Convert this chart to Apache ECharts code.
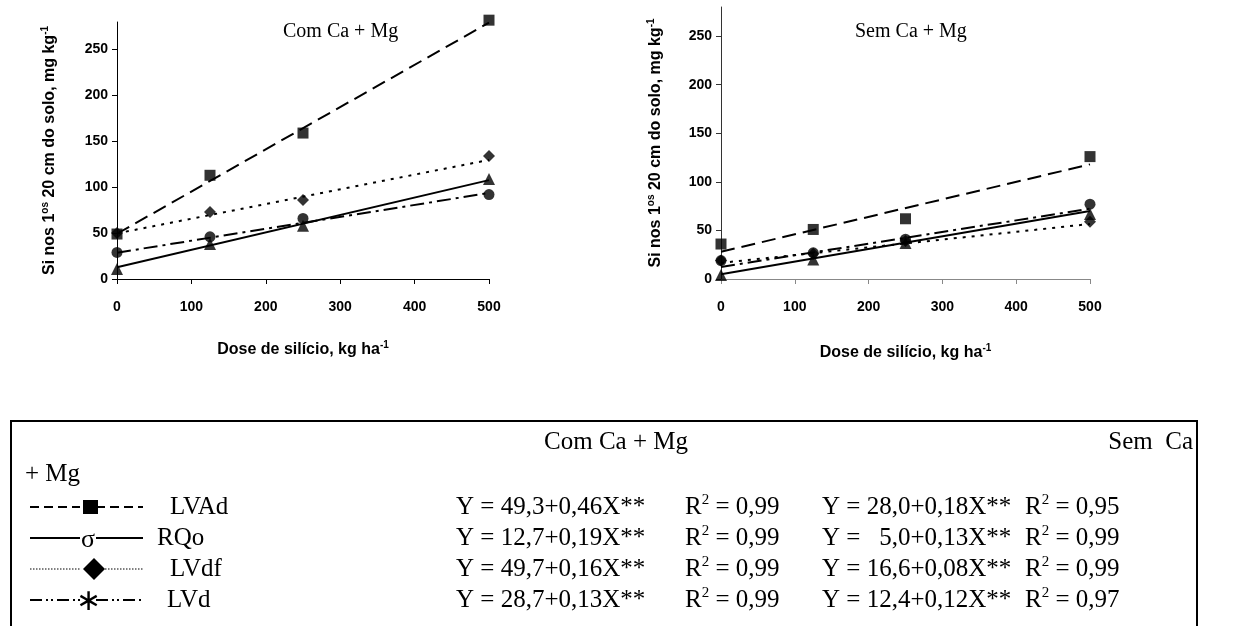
<!DOCTYPE html>
<html><head><meta charset="utf-8">
<script src="https://cdn.jsdelivr.net/npm/echarts@6/dist/echarts.min.js"></script>
<style>html,body{margin:0;padding:0;background:#fff}#c{width:1243px;height:626px}</style>
</head><body><div id="c"></div>
<script>
// ---------- data ----------
const doses = [0, 125, 250, 500];
const xTicks = [0, 100, 200, 300, 400, 500];
const yTicks = [0, 50, 100, 150, 200, 250];
const soils = ['LVAd', 'RQo', 'LVdf', 'LVd'];
const panelTitles = ['Com Ca + Mg', 'Sem Ca + Mg'];

// Com Ca + Mg: observed values
const comLVAd = [49, 113, 159, 282];
const comRQo  = [11, 38, 58, 109];
const comLVdf = [50, 73, 86, 134];
const comLVd  = [29, 46, 66, 92];
// Sem Ca + Mg: observed values
const semLVAd = [36, 51, 62, 126];
const semRQo  = [4, 20, 37, 67];
const semLVdf = [19, 26, 39, 59];
const semLVd  = [19, 27, 41, 77];

// fitted lines, values read at dose 0 and dose 500
const fitDoses = [0, 500];
const comFitLVAd = [49.3, 279.3];
const comFitRQo  = [12.7, 107.7];
const comFitLVdf = [49.7, 129.7];
const comFitLVd  = [28.7, 93.7];
const semFitLVAd = [28.0, 118.0];
const semFitRQo  = [5.0, 70.0];
const semFitLVdf = [16.6, 56.6];
const semFitLVd  = [12.4, 72.4];

// legend table texts
const headerCom = 'Com Ca + Mg';
const headerSem1 = 'Sem  Ca';
const headerSem2 = '+ Mg';
const legendMarks = ['\u25A0', '\u03C3', '\u25C6', '\u2217'];
const eqCom = ['Y = 49,3+0,46X**', 'Y = 12,7+0,19X**', 'Y = 49,7+0,16X**', 'Y = 28,7+0,13X**'];
const r2Com = ['0,99', '0,99', '0,99', '0,99'];
const eqSem = ['Y = 28,0+0,18X**', 'Y =   5,0+0,13X**', 'Y = 16,6+0,08X**', 'Y = 12,4+0,12X**'];
const r2Sem = ['0,95', '0,99', '0,99', '0,97'];

// ---------- styling ----------
const sans = 'Liberation Sans, Arial, sans-serif';
const serif = 'Liberation Serif, Times New Roman, serif';
const lineTypes = {
  LVAd: [14, 7],
  RQo: 'solid',
  LVdf: [3, 6],
  LVd: [14, 5, 3, 5]
};
const symbols = {
  LVAd: ['rect', 11],
  RQo: ['triangle', 12],
  LVdf: ['diamond', 12],
  LVd: ['circle', 11]
};

const obs = [
  {LVAd: comLVAd, RQo: comRQo, LVdf: comLVdf, LVd: comLVd},
  {LVAd: semLVAd, RQo: semRQo, LVdf: semLVdf, LVd: semLVd}
];
const fits = [
  {LVAd: comFitLVAd, RQo: comFitRQo, LVdf: comFitLVdf, LVd: comFitLVd},
  {LVAd: semFitLVAd, RQo: semFitRQo, LVdf: semFitLVdf, LVd: semFitLVd}
];

const grids = [
  {left: 117, top: 22, width: 372, height: 257},
  {left: 721, top: 7, width: 369, height: 272}
];
const axisColors = [{x: '#000', y: '#000'}, {x: '#888', y: '#333'}];

const richAxis = {
  a: {fontFamily: sans, fontWeight: 'bold', fontSize: 16, lineHeight: 19, color: '#000'},
  s: {fontFamily: sans, fontWeight: 'bold', fontSize: 10, lineHeight: 11, verticalAlign: 'top', color: '#000'}
};

const xAxes = grids.map((g, i) => ({
  type: 'value', gridIndex: i, min: 0, max: 500, interval: 100,
  name: '{a|Dose de silício, kg ha}{s|-1}',
  nameLocation: 'middle', nameGap: i === 0 ? 61 : 64,
  nameTextStyle: {rich: richAxis},
  axisLine: {show: true, lineStyle: {color: axisColors[i].x, width: 1}},
  axisTick: {show: true, inside: false, length: 5, lineStyle: {color: axisColors[i].x}, customValues: xTicks},
  axisLabel: {customValues: xTicks, fontFamily: sans, fontWeight: 'bold', fontSize: 14, color: '#000', margin: 21},
  splitLine: {show: false}
}));
const yAxes = grids.map((g, i) => ({
  type: 'value', gridIndex: i, min: 0, max: 280, interval: 50,
  name: '{a|Si nos 1}{s|os}{a| 20 cm do solo, mg kg}{s|-1}',
  nameLocation: 'middle', nameRotate: 90, nameGap: i === 0 ? 58 : 56,
  nameTextStyle: {rich: richAxis},
  axisLine: {show: true, lineStyle: {color: axisColors[i].y, width: 1}},
  axisTick: {show: true, inside: false, length: 5, lineStyle: {color: axisColors[i].y}, customValues: yTicks},
  axisLabel: {customValues: yTicks, fontFamily: sans, fontWeight: 'bold', fontSize: 14, color: '#000', margin: 9},
  splitLine: {show: false}
}));

const series = [];
[0, 1].forEach(p => {
  soils.forEach(s => {
    series.push({
      type: 'line', xAxisIndex: p, yAxisIndex: p, name: s + ' fit',
      data: fitDoses.map((d, k) => [d, fits[p][s][k]]),
      showSymbol: false, symbol: 'none', clip: false, silent: true,
      lineStyle: {color: '#000', width: 2, type: lineTypes[s], cap: 'butt'},
      z: 2
    });
  });
  soils.forEach(s => {
    series.push({
      type: 'scatter', xAxisIndex: p, yAxisIndex: p, name: s,
      data: doses.map((d, k) => [d, obs[p][s][k]]),
      symbol: symbols[s][0], symbolSize: symbols[s][1], clip: false, silent: true,
      itemStyle: {color: '#000'},
      z: 3
    });
  });
});

// ---------- legend table (graphic) ----------
const g = [];
g.push({type: 'rect', shape: {x: 11, y: 421, width: 1186, height: 400},
        style: {fill: 'none', stroke: '#000', lineWidth: 2}, z: 10});
// panel titles
g.push({type: 'text', left: 283, top: 22, style: {text: panelTitles[0], font: '20px ' + serif, fill: '#000'}});
g.push({type: 'text', left: 855, top: 22, style: {text: panelTitles[1], font: '20px ' + serif, fill: '#000'}});

const TF = '25px ' + serif;
g.push({type: 'text', x: 688, y: 442, style: {text: headerCom, font: TF, fill: '#000', textAlign: 'right', textVerticalAlign: 'middle'}});
g.push({type: 'text', x: 1193, y: 442, style: {text: headerSem1, font: TF, fill: '#000', textAlign: 'right', textVerticalAlign: 'middle'}});
g.push({type: 'text', x: 25, y: 474, style: {text: headerSem2, font: TF, fill: '#000', textVerticalAlign: 'middle'}});

const rowsY = [507, 538, 569, 600];
const labelX = [170, 157, 170, 167];
const colX = [456, 685, 822, 1025];
const richR = {
  r: {font: TF, fill: '#000', lineHeight: 28},
  s: {font: '15px ' + serif, fill: '#000', lineHeight: 14, verticalAlign: 'top'}
};
soils.forEach((s, i) => {
  const y = rowsY[i];
  const dash = s === 'RQo' ? null : (s === 'LVAd' ? [9, 5] : (s === 'LVdf' ? [1.5, 1.5] : [12, 4, 2, 3, 2, 4]));
  const lw = s === 'LVdf' ? 1 : 2;
  g.push({type: 'line', shape: {x1: 30, y1: y, x2: 80, y2: y}, style: {stroke: '#000', lineWidth: lw, lineDash: dash}});
  g.push({type: 'line', shape: {x1: 96, y1: y, x2: 143, y2: y}, style: {stroke: '#000', lineWidth: lw, lineDash: dash}});
  if (s === 'LVAd') {
    g.push({type: 'rect', shape: {x: 83, y: y - 7, width: 15, height: 14}, style: {fill: '#000'}});
  } else if (s === 'LVdf') {
    g.push({type: 'polygon', shape: {points: [[94, y - 11], [105, y], [94, y + 11], [83, y]]}, style: {fill: '#000'}});
  } else {
    g.push({type: 'text', x: 88, y: y + 2, style: {text: legendMarks[i], font: (s === 'LVd' ? '30px ' : '26px ') + serif, fill: '#000', textAlign: 'center', textVerticalAlign: 'middle'}});
  }
  g.push({type: 'text', x: labelX[i], y: y, style: {text: s, font: TF, fill: '#000', textVerticalAlign: 'middle'}});
  g.push({type: 'text', x: colX[0], y: y, style: {text: eqCom[i], font: TF, fill: '#000', textVerticalAlign: 'middle'}});
  g.push({type: 'text', x: colX[1], y: y, style: {text: '{r|R}{s|2}{r| = ' + r2Com[i] + '}', rich: richR, textVerticalAlign: 'middle'}});
  g.push({type: 'text', x: colX[2], y: y, style: {text: eqSem[i], font: TF, fill: '#000', textVerticalAlign: 'middle'}});
  g.push({type: 'text', x: colX[3], y: y, style: {text: '{r|R}{s|2}{r| = ' + r2Sem[i] + '}', rich: richR, textVerticalAlign: 'middle'}});
});

const chart = echarts.init(document.getElementById('c'), null, {renderer: 'canvas'});
chart.setOption({
  animation: false,
  backgroundColor: '#fff',
  grid: grids,
  xAxis: xAxes,
  yAxis: yAxes,
  series: series,
  graphic: g
});
</script>
</body></html>
